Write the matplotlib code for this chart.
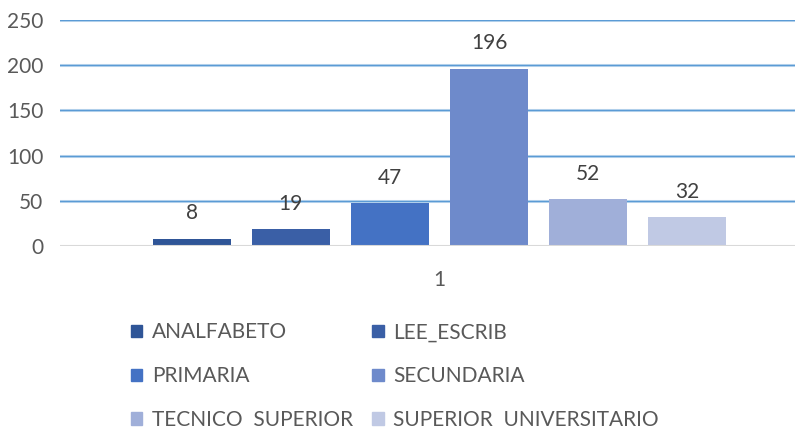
import matplotlib.pyplot as plt
from matplotlib.patches import Patch
import numpy as np

# Datos
categorias = ['ANALFABETO', 'LEE_ESCRIB', 'PRIMARIA', 'SECUNDARIA',
              'TECNICO  SUPERIOR', 'SUPERIOR  UNIVERSITARIO']
valores = [8, 19, 47, 196, 52, 32]
colores = ['#2F5597', '#3A5FA6', '#4472C4', '#6E8ACB', '#A0AFD9', '#C0C9E4']
yticks = [0, 50, 100, 150, 200, 250]

plt.rcParams['font.family'] = ['Lato', 'DejaVu Sans']

fig = plt.figure(figsize=(7.99, 4.30), dpi=100)
ax = fig.add_axes([0.0751, 0.428, 0.92, 0.5256])

x = np.arange(len(valores))
ax.bar(x, valores, width=0.79, color=colores, zorder=3)

# etiquetas de datos
for xi, v in zip(x, valores):
    ax.annotate(str(v), (xi, v), xytext=(0, 11), textcoords='offset points',
                ha='center', va='bottom', fontsize=15, color='#404040')

ax.set_xlim(-1.33, 6.09)
ax.set_ylim(0, 250)
ax.set_yticks(yticks)
ax.set_xticks([2.5])
ax.set_xticklabels(['1'])
ax.tick_params(axis='both', length=0, labelsize=15, colors='#595959')
ax.tick_params(axis='x', pad=17)
ax.tick_params(axis='y', pad=12)

# lineas de cuadricula
for t in yticks[1:]:
    ax.axhline(t, color='#BDD7EE', lw=2.2, zorder=1)
    ax.axhline(t, color='#5B9BD5', lw=0.9, zorder=2)
ax.axhline(0, color='#D9D9D9', lw=1.5, zorder=4)

for s in ax.spines.values():
    s.set_visible(False)

# orden por filas en la leyenda
orden = [0, 2, 4, 1, 3, 5]
handles = [Patch(color=colores[i]) for i in orden]
etiquetas = [categorias[i] for i in orden]
fig.legend(handles, etiquetas, ncol=2, loc='upper left',
           bbox_to_anchor=(0.164, 0.25), frameon=False, fontsize=15,
           handlelength=0.55, handleheight=0.55, handletextpad=0.45,
           labelspacing=1.14, columnspacing=0.92, labelcolor='#595959',
           borderaxespad=0, borderpad=0)

fig.savefig('out.png', dpi=100)
